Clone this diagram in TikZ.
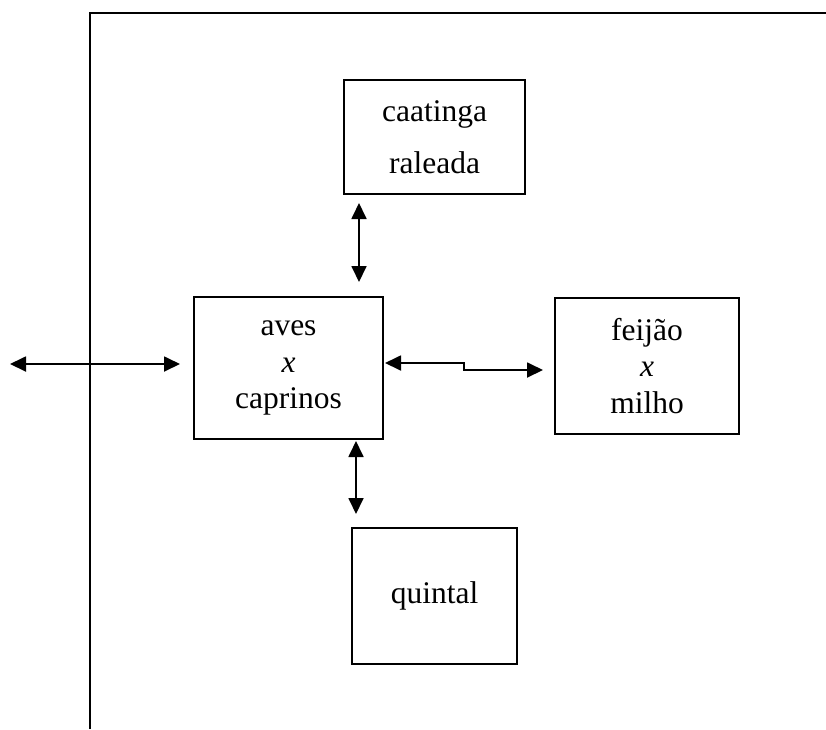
\documentclass[tikz,border=0pt]{standalone}
\usepackage{fontspec}
\setmainfont{Liberation Serif}
\usetikzlibrary{arrows.meta}
\begin{document}
\begin{tikzpicture}[x=1pt,y=-1pt,
  box/.style={draw, line width=1.9pt, inner sep=0pt, align=center,
    font=\fontsize{31.5}{36.5}\selectfont},
  link/.style={line width=1.8pt, {Triangle[length=16pt,width=15pt]}-{Triangle[length=16pt,width=15pt]}},
  frame/.style={line width=2.7pt}]
\useasboundingbox (0,0) rectangle (826,729);

% boxes
\node[box, minimum width=181pt, minimum height=114pt,
  font=\fontsize{31.5}{52}\selectfont] (caat) at (434.5,137) {caatinga\\raleada};
\node[box, minimum width=189pt, minimum height=142pt] (aves) at (288.5,368) {aves\\\textit{x}\\caprinos};
\node[box, minimum width=184pt, minimum height=136pt] (feij) at (647,366) {feijão\\\textit{x}\\milho};
\node[box, minimum width=165pt, minimum height=136pt] (quin) at (434.5,596) {quintal};

% frame lines
\coordinate (fb) at (90,729);
\coordinate (fc) at (90,13);
\coordinate (fr) at (826,13);
\draw[frame] (fb) -- (fc) -- (fr);

% connector ends
\coordinate (ca1) at (359,203);
\coordinate (ca2) at (359,282);
\coordinate (aq1) at (356,441);
\coordinate (aq2) at (356,514);
\coordinate (le1) at (10,364);
\coordinate (le2) at (180,364);
\coordinate (af1) at (385,363);
\coordinate (af2) at (543,370);

% connectors
\draw[link] (ca1) -- (ca2);
\draw[link] (aq1) -- (aq2);
\draw[link] (le1) -- (le2);
\draw[link] (af1) -- (464,363) -- (464,370) -- (af2);
\end{tikzpicture}
\end{document}
